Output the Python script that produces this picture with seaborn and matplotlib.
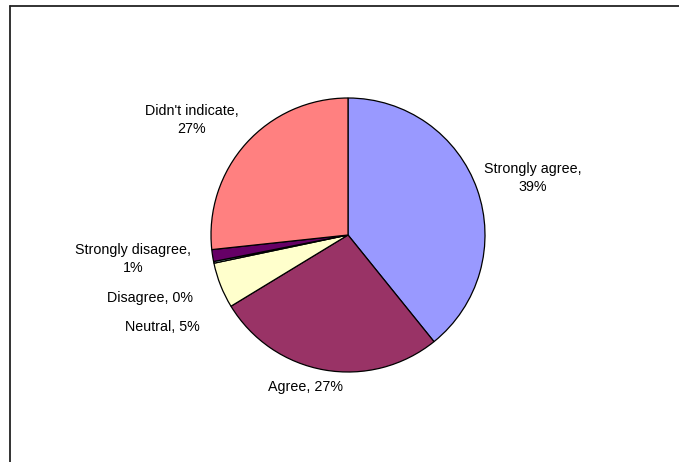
import matplotlib
matplotlib.use("Agg")
import matplotlib.pyplot as plt
import seaborn as sns
from matplotlib.lines import Line2D

sns.set_style("white")
plt.rcParams['font.family'] = ['Liberation Sans', 'DejaVu Sans']

categories = ["Strongly agree", "Agree", "Neutral", "Disagree",
              "Strongly disagree", "Didn't indicate"]
shares = [39.2, 27.1, 5.4, 0.2, 1.4, 26.7]
colors = ["#9999FF", "#993366", "#FFFFCC", "#CCFFFF", "#660066", "#FF8080"]

# label text and where it sits (pixel centres in the 679x462 picture)
label_text = ["Strongly agree,\n39%", "Agree, 27%", "Neutral, 5%", "Disagree, 0%",
              "Strongly disagree,\n1%", "Didn't indicate,\n27%"]
label_pos = [(533, 178), (306, 387), (162, 327), (150, 298), (133, 259), (192, 120)]

W, H = 679, 462
fig = plt.figure(figsize=(W / 100, H / 100), dpi=100)
fig.patch.set_facecolor("white")

cx, cy, r = 348, 235, 137
ax = fig.add_axes([(cx - r) / W, 1 - (cy + r) / H, 2 * r / W, 2 * r / H])
ax.pie(shares, colors=colors, startangle=90, counterclock=False,
       wedgeprops=dict(edgecolor="black", linewidth=0.9))
ax.set_xlim(-1, 1)
ax.set_ylim(-1, 1)
ax.axis("off")

for txt, (px, py) in zip(label_text, label_pos):
    fig.text(px / W, 1 - py / H, txt, ha="center", va="center",
             fontsize=10.3, color="black", linespacing=1.4)

# chart frame (cut off at right and bottom)
fig.add_artist(Line2D([9.5 / W, 1], [1 - 5.5 / H, 1 - 5.5 / H],
                      transform=fig.transFigure, color="#222222", linewidth=1.3))
fig.add_artist(Line2D([9.5 / W, 9.5 / W], [0, 1 - 5.5 / H],
                      transform=fig.transFigure, color="#222222", linewidth=1.3))

fig.savefig("out.png", dpi=100)
